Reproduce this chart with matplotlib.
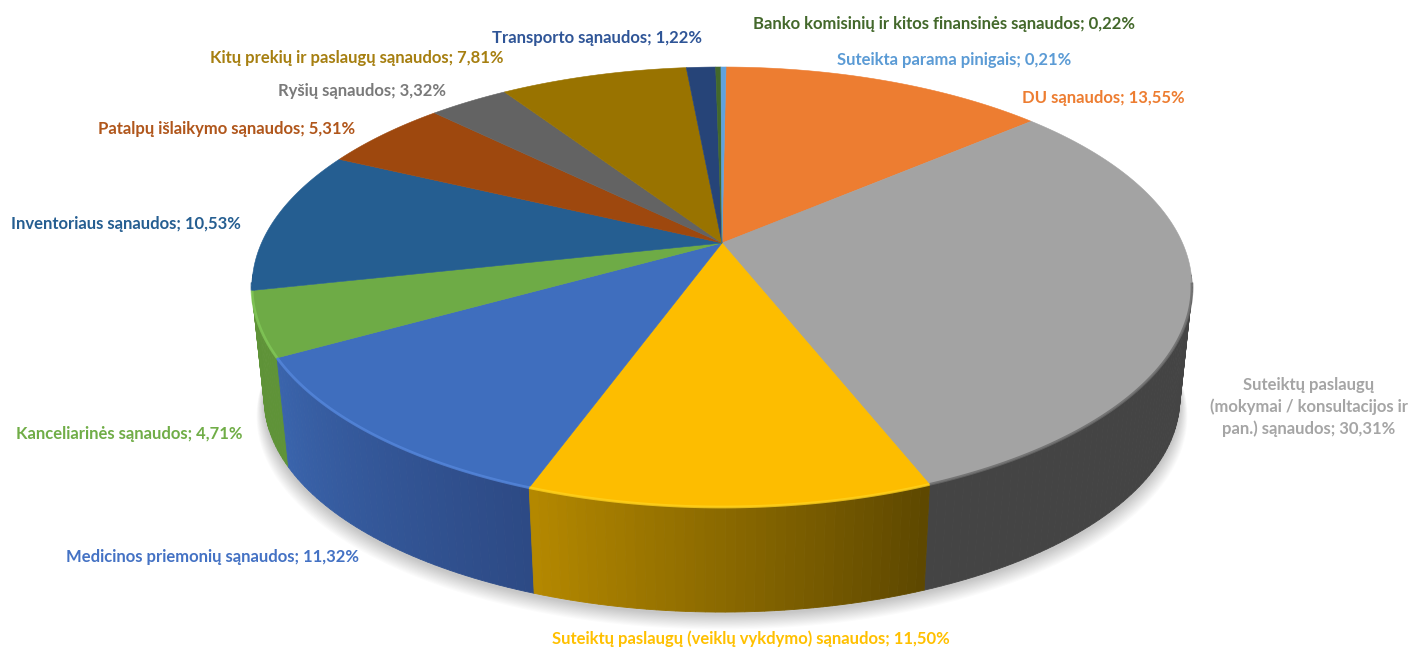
import numpy as np
import matplotlib
matplotlib.use("Agg")
import matplotlib.pyplot as plt
from matplotlib.colors import to_rgb

labels = ["DU sąnaudos; 13,55%",
          "Suteiktų paslaugų\n(mokymai / konsultacijos ir\npan.) sąnaudos; 30,31%",
          "Suteiktų paslaugų (veiklų vykdymo) sąnaudos; 11,50%",
          "Medicinos priemonių sąnaudos; 11,32%",
          "Kanceliarinės sąnaudos; 4,71%",
          "Inventoriaus sąnaudos; 10,53%",
          "Patalpų išlaikymo sąnaudos; 5,31%",
          "Ryšių sąnaudos; 3,32%",
          "Kitų prekių ir paslaugų sąnaudos; 7,81%",
          "Transporto sąnaudos; 1,22%",
          "Banko komisinių ir kitos finansinės sąnaudos; 0,22%",
          "Suteikta parama pinigais; 0,21%"]
values = [13.55, 30.31, 11.50, 11.32, 4.71, 10.53, 5.31, 3.32, 7.81, 1.22, 0.22, 0.21]

colors = ["#ED7D31", "#A3A3A3", "#FDBD00", "#3F6EBE", "#6EAB46", "#255E91",
          "#9E480E", "#636363", "#997300", "#264478", "#43682B", "#5FA2DD"]
text_colors = ["#ED7D31", "#A5A5A5", "#FFC000", "#4472C4", "#70AD47", "#255E91",
               "#B0561B", "#7A7A7A", "#A67F10", "#2F5597", "#43682B", "#5B9BD5"]
side_left = ["#B05C24", "#444444", "#B48800", "#3A64AC", "#5F9338", "#1C4770",
             "#773609", "#4A4A4A", "#735600", "#1C335A", "#324E20", "#4A7AA5"]
side_right = ["#B05C24", "#434343", "#5E4800", "#2D4A85", "#5F9338", "#1C4770",
              "#773609", "#4A4A4A", "#735600", "#1C335A", "#324E20", "#4A7AA5"]
rim_colors = ["#ED7D31", "#6A6A6A", "#FFD21E", "#5587DC", "#82C858", "#255E91",
              "#9E480E", "#636363", "#997300", "#264478", "#43682B", "#5FA2DD"]

label_pos = [(1103, 98), (1309, 407), (751, 639), (213, 557), (129, 434), (126, 224),
             (227, 129), (362, 91), (357, 58), (597, 38), (944, 24), (954, 60)]

# projection of the pie disc
cx, cy = 722, 243
a, b, k = 460.5, 211.2, 0.2
sx, sy, low_y = 0.974, 0.97, 356
first_angle = 0.6


def top_xy(t):
    # t = angle clockwise from 12 o'clock, radians
    X, Y = np.sin(t), np.cos(t)
    w = 1 + k * Y
    return cx + a * X / w, cy - b * Y / w


def low_xy(t):
    x, y = top_xy(t)
    return cx + sx * (x - cx), low_y + sy * (y - cy)


def mix(c1, c2, f):
    c1, c2 = np.array(to_rgb(c1)), np.array(to_rgb(c2))
    return tuple(c1 + (c2 - c1) * f)


edges = np.cumsum([0] + values) / sum(values) * 2 * np.pi + np.radians(first_angle)

fig = plt.figure(figsize=(14.14, 6.47), dpi=100)
ax = fig.add_axes([0, 0, 1, 1])
ax.set_xlim(0, 1414)
ax.set_ylim(647, 0)
ax.axis("off")

# soft shadow under the pie
t_all = np.linspace(0, 2 * np.pi, 361)
lx, ly = low_xy(t_all)
for i in range(14):
    grow = 14 - i
    ax.fill(cx + (lx - cx) * (1 + grow * 0.0012), ly + grow * 1.1 + 2, color="#000000",
            alpha=0.015, lw=0, zorder=1)

# side wall, back to front
strips = []
for i in range(len(values)):
    n = max(2, int((edges[i + 1] - edges[i]) / np.radians(1.0)))
    ts = np.linspace(edges[i], edges[i + 1], n + 1)
    for j in range(n):
        strips.append((np.cos((ts[j] + ts[j + 1]) / 2), i, ts[j], ts[j + 1], j / max(1, n - 1)))
strips.sort(key=lambda s: -s[0])
for c, i, t0, t1, f in strips:
    # the back of the wall is hidden and would only peek out round the top face
    if c > -0.15:
        continue
    # the wall gets darker going left to right, so the gradient runs against the angle
    col = mix(side_left[i], side_right[i], 1 - f)
    x0, y0 = top_xy(t0)
    x1, y1 = top_xy(t1)
    x2, y2 = low_xy(t1)
    x3, y3 = low_xy(t0)
    ax.fill([x0, x1, x2, x3], [y0, y1, y2, y3], color=col, lw=0.6, zorder=2)

# top face
for i in range(len(values)):
    n = max(2, int((edges[i + 1] - edges[i]) / np.radians(0.5)))
    ts = np.linspace(edges[i], edges[i + 1], n + 1)
    x, y = top_xy(ts)
    ax.fill(np.r_[cx, x], np.r_[cy, y], color=colors[i], lw=0.4, zorder=3)
    # bevel along the rim, only on the front part
    mask = np.cos(ts) < -0.18
    if mask.sum() > 1:
        ax.plot(x[mask], y[mask], color=rim_colors[i], lw=2.0, alpha=0.8, zorder=4,
                solid_capstyle="butt")

for i in range(len(values)):
    ax.text(label_pos[i][0], label_pos[i][1], labels[i], color=text_colors[i],
            family="Lato", weight="bold", fontsize=12, ha="center", va="center",
            linespacing=1.37, zorder=5)

fig.savefig("out.png", dpi=100)
